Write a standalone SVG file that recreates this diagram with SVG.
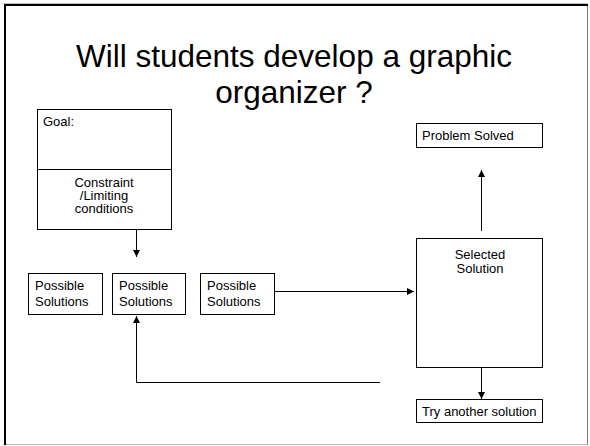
<svg xmlns="http://www.w3.org/2000/svg" width="590" height="446" viewBox="0 0 590 446">
<defs>
<style>
.box{fill:#fff;stroke:#000;stroke-width:1}
.t{font-family:"Liberation Sans",Arial,sans-serif;font-size:13px;fill:#000}
.title{font-family:"Liberation Sans",Arial,sans-serif;font-size:31.5px;fill:#000;text-anchor:middle}
.c{text-anchor:middle}
.ln{fill:none;stroke:#000;stroke-width:1}
</style>
<marker id="ah" viewBox="0 0 10 10" refX="10" refY="5" markerWidth="7" markerHeight="7" markerUnits="userSpaceOnUse" orient="auto">
<path d="M0,0 L10,5 L0,10 z" fill="#000"/>
</marker>
</defs>
<rect x="0" y="0" width="590" height="446" fill="#fff"/>
<g id="frame">
<line x1="3" y1="444.5" x2="588" y2="444.5" stroke="#c0c0c0" stroke-width="1"/>
<line x1="587.5" y1="3" x2="587.5" y2="445" stroke="#808080" stroke-width="1"/>
<line x1="3" y1="3.5" x2="588" y2="3.5" stroke="#c0c0c0" stroke-width="1"/>
<line x1="5" y1="5" x2="588" y2="5" stroke="#000" stroke-width="2"/>
<line x1="5" y1="4" x2="5" y2="445" stroke="#000" stroke-width="2"/>
</g>
<g id="title">
<text class="title" x="294" y="67">Will students develop a graphic</text>
<text class="title" x="294" y="103">organizer ?</text>
</g>
<g id="goal">
<rect class="box" x="37.5" y="109.5" width="134" height="120"/>
<line class="ln" x1="37.5" y1="169.5" x2="171.5" y2="169.5"/>
<text class="t" x="43" y="126">Goal:</text>
<text class="t c" x="104" y="187">Constraint</text>
<text class="t c" x="104" y="200">/Limiting</text>
<text class="t c" x="104" y="213">conditions</text>
</g>
<g id="ps1">
<rect class="box" x="28.5" y="273.5" width="74" height="41"/>
<text class="t" x="35" y="290">Possible</text>
<text class="t" x="35" y="306">Solutions</text>
</g>
<g id="ps2">
<rect class="box" x="112.5" y="273.5" width="73" height="41"/>
<text class="t" x="119" y="290">Possible</text>
<text class="t" x="119" y="306">Solutions</text>
</g>
<g id="ps3">
<rect class="box" x="200.5" y="273.5" width="74" height="41"/>
<text class="t" x="207" y="290">Possible</text>
<text class="t" x="207" y="306">Solutions</text>
</g>
<g id="problem">
<rect class="box" x="416.5" y="123.5" width="126" height="24"/>
<text class="t" x="422" y="140">Problem Solved</text>
</g>
<g id="selected">
<rect class="box" x="416.5" y="238.5" width="126" height="129"/>
<text class="t c" x="480" y="259">Selected</text>
<text class="t c" x="480" y="273">Solution</text>
</g>
<g id="try">
<rect class="box" x="416.5" y="399.5" width="126" height="23"/>
<text class="t" x="422" y="416">Try another solution</text>
</g>
<g id="connectors">
<line class="ln" x1="136.5" y1="230" x2="136.5" y2="257" marker-end="url(#ah)"/>
<line class="ln" x1="275" y1="291.5" x2="414" y2="291.5" marker-end="url(#ah)"/>
<line class="ln" x1="481.5" y1="231" x2="481.5" y2="170" marker-end="url(#ah)"/>
<line class="ln" x1="481.5" y1="368" x2="481.5" y2="399" marker-end="url(#ah)"/>
<polyline class="ln" points="380,382.5 136.5,382.5 136.5,316" marker-end="url(#ah)"/>
</g>
</svg>
